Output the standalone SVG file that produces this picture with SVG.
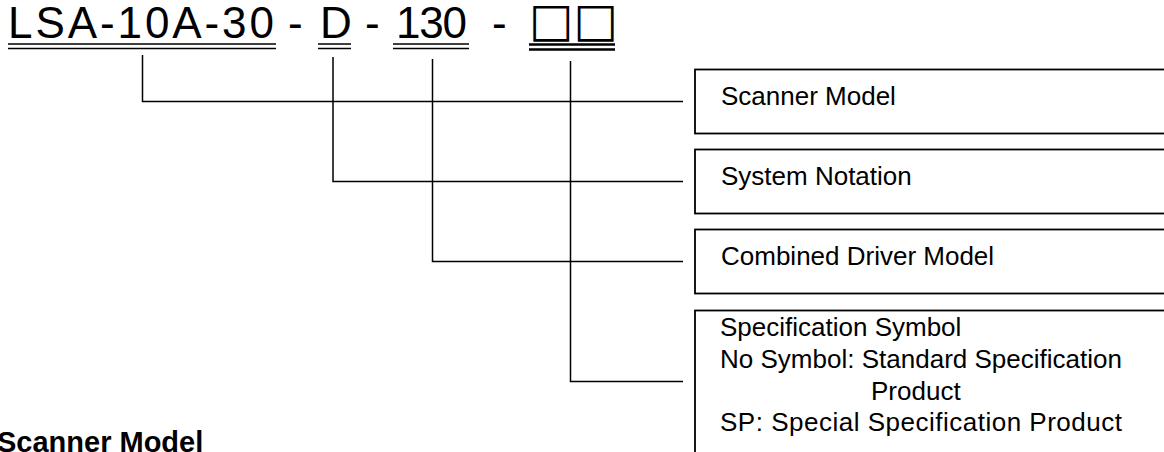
<svg xmlns="http://www.w3.org/2000/svg" width="1164" height="452" viewBox="0 0 1164 452">
<style>
.title{font-family:"Liberation Sans",Arial,sans-serif;font-size:44px;fill:#000}
.sq{font-family:"DejaVu Sans","Noto Sans CJK JP",sans-serif;font-size:47px;fill:#000}
.ul{stroke:#000;stroke-width:1.5;fill:none}
.ulb{stroke:#000;stroke-width:2.6;fill:none}
.conn{stroke:#000;stroke-width:1.5;fill:none}
.box{stroke:#000;stroke-width:1.8;fill:#fff}
.lbl{font-family:"Liberation Sans",Arial,sans-serif;font-size:26px;fill:#000}
.head{font-family:"Liberation Sans",Arial,sans-serif;font-size:29px;font-weight:bold;fill:#000}
</style>
<g id="title">
<text class="title" y="38"><tspan x="8" textLength="266" lengthAdjust="spacing">LSA-10A-30</tspan><tspan x="288">-</tspan><tspan x="320">D</tspan><tspan x="365">-</tspan><tspan x="396" textLength="71" lengthAdjust="spacing">130</tspan><tspan x="492">-</tspan></text>
<text class="sq" y="36" x="529">□□</text>
<path class="ul" d="M8 44H276M8 48.5H276M318 44H351M318 48.5H351M393 44H469M393 48.5H469"/>
<path class="ulb" d="M529 44.5H615M529 49.5H615"/>
</g>
<g id="connectors">
<path class="conn" d="M142.5 55V101.5H683"/>
<path class="conn" d="M333 57V181.5H683"/>
<path class="conn" d="M432.5 59V261.5H683"/>
<path class="conn" d="M570.5 61V381.5H683"/>
</g>
<g id="node-scanner-model">
<rect class="box" x="695" y="69.5" width="520" height="64"/>
<text class="lbl" x="721" y="105">Scanner Model</text>
</g>
<g id="node-system-notation">
<rect class="box" x="695" y="149.5" width="520" height="64"/>
<text class="lbl" x="721" y="185">System Notation</text>
</g>
<g id="node-combined-driver-model">
<rect class="box" x="695" y="229.5" width="520" height="64"/>
<text class="lbl" x="721" y="265">Combined Driver Model</text>
</g>
<g id="node-specification-symbol">
<rect class="box" x="695" y="310.5" width="520" height="200"/>
<text class="lbl" x="720" y="336">Specification Symbol</text>
<text class="lbl" x="720" y="368" textLength="402" lengthAdjust="spacing">No Symbol: Standard Specification</text>
<text class="lbl" x="871" y="400">Product</text>
<text class="lbl" x="720" y="431" textLength="402" lengthAdjust="spacing">SP: Special Specification Product</text>
</g>
<g id="section-heading">
<text class="head" x="-3" y="452">Scanner Model</text>
</g>
</svg>
